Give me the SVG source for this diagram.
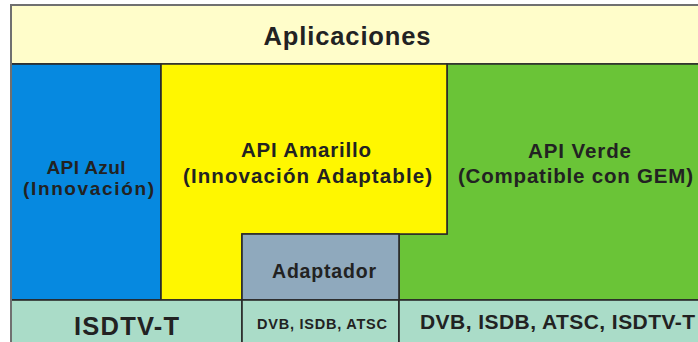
<svg xmlns="http://www.w3.org/2000/svg" width="698" height="342" viewBox="0 0 698 342">
<style>
.t{font-family:"Liberation Sans",Arial,sans-serif;font-weight:bold;fill:#222;text-anchor:middle}
.b{stroke:#2a2a2a;stroke-width:1.6}
</style>
<rect width="698" height="342" fill="#fff"/>
<g id="aplicaciones">
<rect x="11" y="5" width="700" height="59" fill="#FFFDCA" class="b"/>
<text class="t" x="347" y="45" font-size="25.5" textLength="167" lengthAdjust="spacing">Aplicaciones</text>
</g>
<g id="api-azul">
<rect x="11" y="64" width="150" height="236" fill="#0689E0" class="b"/>
<text class="t" x="86" y="174" font-size="19" textLength="79" lengthAdjust="spacing">API Azul</text>
<text class="t" x="88.5" y="195" font-size="19" textLength="131" lengthAdjust="spacing">(Innovación)</text>
</g>
<g id="api-verde">
<path d="M399,234 L447,234 L447,64 L705,64 L705,300 L399,300 Z" fill="#6AC437" class="b"/>
<text class="t" x="579.5" y="158" font-size="20.5" textLength="103" lengthAdjust="spacing">API Verde</text>
<text class="t" x="575.5" y="183" font-size="20.5" textLength="235" lengthAdjust="spacing">(Compatible con GEM)</text>
</g>
<g id="api-amarillo">
<path d="M161,64 L447,64 L447,234 L242,234 L242,300 L161,300 Z" fill="#FFF700" class="b"/>
<text class="t" x="306" y="157" font-size="20.5" textLength="130" lengthAdjust="spacing">API Amarillo</text>
<text class="t" x="307.5" y="183" font-size="20.5" textLength="249" lengthAdjust="spacing">(Innovación Adaptable)</text>
</g>
<g id="adaptador">
<rect x="242" y="234" width="157" height="66" fill="#8FA9BD" class="b"/>
<text class="t" x="324" y="278" font-size="19.5" textLength="104" lengthAdjust="spacing">Adaptador</text>
</g>
<g id="isdtv-t">
<rect x="11" y="300" width="231" height="50" fill="#AADCC8" class="b"/>
<text class="t" x="126.5" y="335" font-size="25.5" textLength="105" lengthAdjust="spacing">ISDTV-T</text>
</g>
<g id="dvb-isdb-atsc">
<rect x="242" y="300" width="157" height="50" fill="#AADCC8" class="b"/>
<text class="t" x="322" y="329" font-size="14.5" textLength="130" lengthAdjust="spacing">DVB, ISDB, ATSC</text>
</g>
<g id="dvb-isdb-atsc-isdtv-t">
<rect x="399" y="300" width="306" height="50" fill="#AADCC8" class="b"/>
<text class="t" x="557.5" y="329" font-size="21" textLength="275" lengthAdjust="spacing">DVB, ISDB, ATSC, ISDTV-T</text>
</g>
<g id="connectors"/>
<rect x="11" y="5" width="700" height="345" fill="none" stroke="#707070" stroke-width="2"/>
</svg>
